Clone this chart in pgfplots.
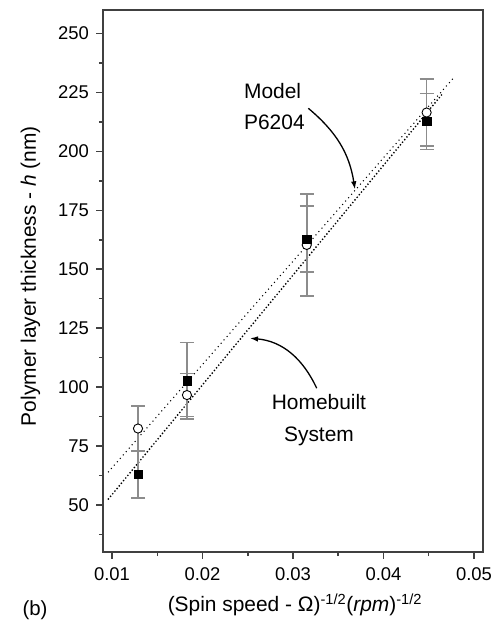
\documentclass[border=0pt]{standalone}
\usepackage{fontspec}
\setmainfont{Liberation Sans}
\usepackage{pgfplots}
\usepackage{pgfplotstable}
\pgfplotsset{compat=1.18}
\usetikzlibrary{arrows.meta}
\definecolor{errgray}{gray}{0.55}
\definecolor{spine}{gray}{0.25}

\pgfplotstableread{
x y e
0.01287 82.4 9.6
0.01828 96.6 9.1
0.03152 160.3 21.7
0.04477 216.5 14.2
}\circdata

\pgfplotstableread{
x y e
0.01287 63.0 10.0
0.01828 102.7 16.3
0.03152 162.8 14.0
0.04477 212.7 11.9
}\sqdata

\begin{document}
\begin{tikzpicture}
\begin{axis}[
  at={(0,0)}, anchor=south west,
  scale only axis,
  width=380bp, height=542bp,
  xmin=0.009, xmax=0.051,
  ymin=30, ymax=260,
  xtick={0.01,0.02,0.03,0.04,0.05},
  xticklabels={0.01,0.02,0.03,0.04,0.05},
  minor xtick={0.015,0.025,0.035,0.045},
  ytick={50,75,100,125,150,175,200,225,250},
  yticklabels={50,75,100,125,150,175,200,225,250},
  minor ytick={37.5,62.5,87.5,112.5,137.5,162.5,187.5,212.5,237.5},
  scaled x ticks=false,
  tick pos=left,
  tick align=outside,
  major tick length=6.5bp,
  minor tick length=4bp,
  every tick/.style={line width=1.5bp, spine},
  axis line style={line width=1.8bp, spine},
  ticklabel style={font=\fontsize{18.5}{21}\selectfont},
  yticklabel style={xshift=-4bp},
  xticklabel style={yshift=-6bp},
  xlabel={(Spin speed - Ω)\textsuperscript{-1/2}(\textit{rpm})\textsuperscript{-1/2}},
  ylabel={Polymer layer thickness - \textit{h} (nm)},
  label style={font=\fontsize{21}{24}\selectfont},
  xlabel style={at={(axis description cs:0.505,-0.0978)}, anchor=center},
  ylabel style={at={(axis description cs:-0.191,0.509)}, anchor=center},
  clip=false,
]
% fit lines
\addplot[black, line width=1.5bp, line cap=round, dash pattern=on 0bp off 4.5bp] coordinates {(0.0096,64) (0.0477,231)};
\addplot[black, line width=1.9bp, line cap=round, dash pattern=on 0bp off 3.4bp] coordinates {(0.0096,52.5) (0.0466,224.8)};
% open circles
\addplot[only marks, mark=*, mark size=4.6bp, mark options={draw=black, fill=white, line width=0.9bp},
  error bars/.cd, y dir=both, y explicit,
  error bar style={errgray, line width=1.5bp},
  error mark options={errgray, mark size=7bp, line width=1.5bp, rotate=90}]
  table[x=x, y=y, y error=e] {\circdata};
% filled squares
\addplot[only marks, mark=square*, mark size=4.1bp, mark options={draw=black, fill=black},
  error bars/.cd, y dir=both, y explicit,
  error bar style={errgray, line width=1.5bp},
  error mark options={errgray, mark size=7bp, line width=1.5bp, rotate=90}]
  table[x=x, y=y, y error=e] {\sqdata};
% annotations
\node[anchor=base west, font=\fontsize{21}{24}\selectfont, inner sep=0pt] at (axis cs:0.02458,222.5) {Model};
\node[anchor=base west, font=\fontsize{21}{24}\selectfont, inner sep=0pt] at (axis cs:0.02458,209.5) {P6204};
\node[anchor=base, font=\fontsize{21}{24}\selectfont, inner sep=0pt] at (axis cs:0.03287,90.3) {Homebuilt};
\node[anchor=base, font=\fontsize{21}{24}\selectfont, inner sep=0pt] at (axis cs:0.03287,76.8) {System};
\draw[black, line width=1.3bp, -{Latex[length=8bp,width=5.5bp]}] (axis cs:0.03169,218.3) to[out=-40,in=99] (axis cs:0.03685,183.9);
\draw[black, line width=1.3bp, -{Latex[length=8bp,width=5.5bp]}] (axis cs:0.03262,99.5) to[out=115,in=-5] (axis cs:0.02525,120.7);
\end{axis}
\node[font=\fontsize{20.5}{24}\selectfont] at (-68bp,-58bp) {(b)};
\pgfresetboundingbox
\useasboundingbox (-103bp,-70bp) rectangle (399bp,552bp);
\end{tikzpicture}
\end{document}
